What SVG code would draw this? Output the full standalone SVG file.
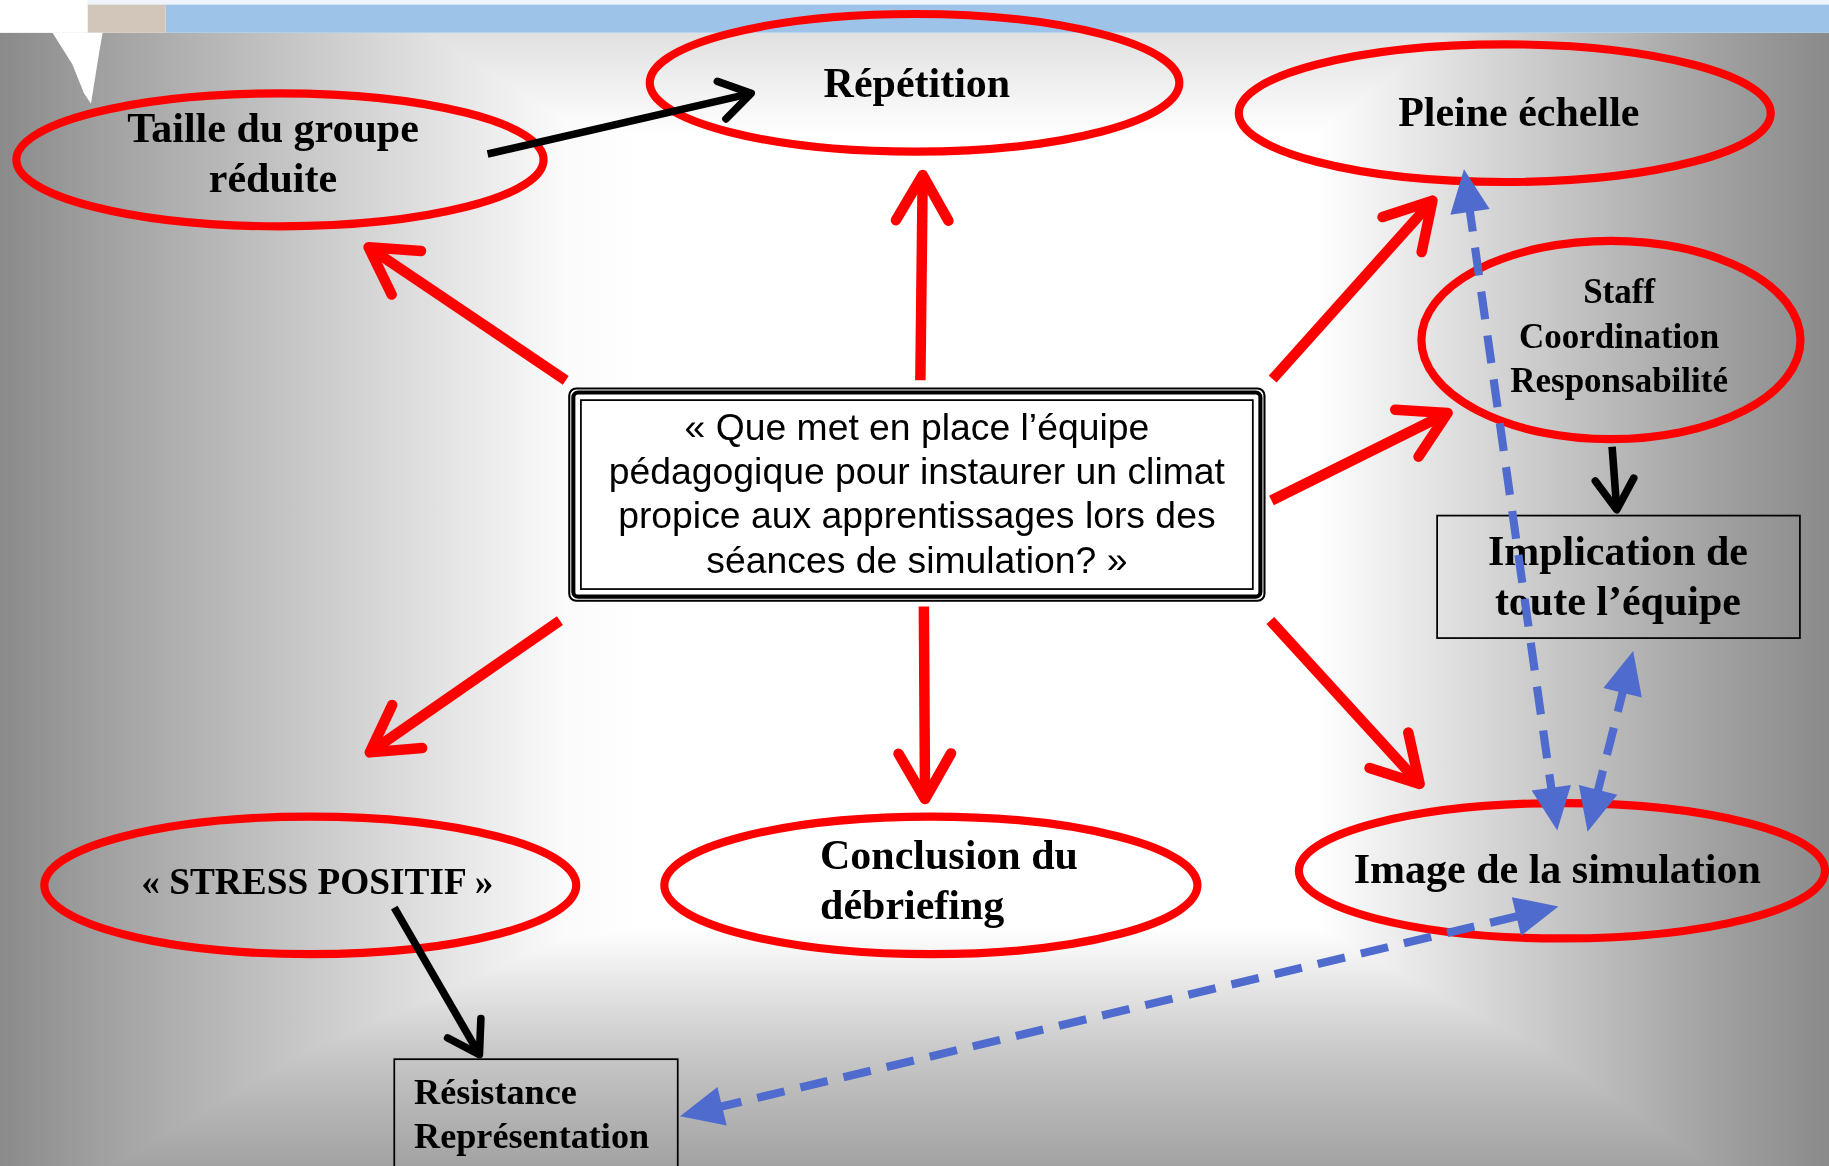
<svg xmlns="http://www.w3.org/2000/svg" width="1829" height="1166" viewBox="0 0 1829 1166">
<defs>
  <linearGradient id="bgH" x1="0" y1="0" x2="1" y2="0">
    <stop offset="0" stop-color="#8a8a8a"/>
    <stop offset="0.06" stop-color="#a2a2a2"/>
    <stop offset="0.2" stop-color="#d4d4d4"/>
    <stop offset="0.31" stop-color="#fbfbfb"/>
    <stop offset="0.35" stop-color="#ffffff"/>
    <stop offset="0.72" stop-color="#ffffff"/>
    <stop offset="0.8" stop-color="#dcdcdc"/>
    <stop offset="0.94" stop-color="#a0a0a0"/>
    <stop offset="1" stop-color="#8a8a8a"/>
  </linearGradient>
  <linearGradient id="bgV" x1="0" y1="0" x2="0" y2="1">
    <stop offset="0" stop-color="#e0e0e0"/>
    <stop offset="0.09" stop-color="#ffffff"/>
    <stop offset="0.79" stop-color="#ffffff"/>
    <stop offset="0.9" stop-color="#c8c8c8"/>
    <stop offset="1" stop-color="#a2a2a2"/>
  </linearGradient>
  <marker id="mRed" markerUnits="userSpaceOnUse" markerWidth="10" markerHeight="10" refX="0" refY="0" orient="auto" overflow="visible">
    <path d="M -39,-22.5 L 0,0 L -39,22.5" fill="none" stroke="#ff0000" stroke-width="9" stroke-linecap="round" stroke-linejoin="round"/>
  </marker>
  <marker id="mBlack" markerUnits="userSpaceOnUse" markerWidth="10" markerHeight="10" refX="0" refY="0" orient="auto" overflow="visible">
    <path d="M -26,-16.5 L 0,0 L -26,16.5" fill="none" stroke="#000000" stroke-width="6.5" stroke-linecap="round" stroke-linejoin="round"/>
  </marker>
  <marker id="mBlue" markerUnits="userSpaceOnUse" markerWidth="10" markerHeight="10" refX="0" refY="0" orient="auto-start-reverse" overflow="visible">
    <path d="M 30,0 L -7,-17 L -7,17 Z" fill="#4f6bcd"/>
  </marker>
</defs>
<style>
  .ell{fill:none;stroke:#ff0000;stroke-width:7}
  .lbl{font-family:"Liberation Serif","Times New Roman",serif;font-weight:bold;fill:#000000}
  .q{font-family:"Liberation Sans",Arial,sans-serif;font-size:32px;fill:#000000}
  .red{fill:none;stroke:#ff0000;stroke-width:9;stroke-linecap:butt;marker-end:url(#mRed)}
  .blk{fill:none;stroke:#000000;stroke-width:6.5;stroke-linecap:butt;marker-end:url(#mBlack)}
  .blu{fill:none;stroke:#4f6bcd;stroke-width:7;stroke-dasharray:24 14;marker-start:url(#mBlue);marker-end:url(#mBlue)}
  .box{fill:none;stroke:#000000;stroke-width:1.5}
</style>
<rect x="0" y="0" width="1829" height="1166" fill="#ffffff"/>
<g transform="scale(1.1665)">
  <g id="background">
    <rect x="0" y="28" width="1568" height="972" fill="url(#bgH)"/>
    <rect x="0" y="28" width="1568" height="972" fill="url(#bgV)" style="mix-blend-mode:darken"/>
    <rect x="0" y="0" width="1568" height="4.5" fill="#eef4fa"/>
    <rect x="142" y="4" width="1426" height="24" fill="#9dc3e8"/>
    <rect x="75" y="4" width="67" height="24" fill="#d2c6ba"/>
    <rect x="0" y="0" width="75" height="28" fill="#ffffff"/>
    <polygon points="45,28 88,28 85,45 78,89 72,80 62,55" fill="#ffffff"/>
  </g>

  <g id="node-taille">
    <ellipse class="ell" cx="240" cy="137" rx="226" ry="57"/>
    <text class="lbl" font-size="36" text-anchor="middle" x="234" y="122">Taille du groupe</text>
    <text class="lbl" font-size="36" text-anchor="middle" x="234" y="165">réduite</text>
  </g>

  <g id="node-repetition">
    <ellipse class="ell" cx="784" cy="71" rx="227" ry="59"/>
    <text class="lbl" font-size="36" text-anchor="middle" x="786" y="83">Répétition</text>
  </g>

  <g id="node-pleine">
    <ellipse class="ell" cx="1290" cy="97" rx="228" ry="59"/>
    <text class="lbl" font-size="36" text-anchor="middle" x="1302" y="108">Pleine échelle</text>
  </g>

  <g id="node-staff">
    <ellipse class="ell" cx="1381" cy="291.5" rx="162.5" ry="85"/>
    <text class="lbl" font-size="30" text-anchor="middle" x="1388" y="260">Staff</text>
    <text class="lbl" font-size="30" text-anchor="middle" x="1388" y="298">Coordination</text>
    <text class="lbl" font-size="30" text-anchor="middle" x="1388" y="336">Responsabilité</text>
  </g>

  <g id="node-implication">
    <rect class="box" x="1232" y="442" width="311" height="105"/>
    <text class="lbl" font-size="36" text-anchor="middle" x="1387" y="484">Implication de</text>
    <text class="lbl" font-size="36" text-anchor="middle" x="1387" y="527">toute l’équipe</text>
  </g>

  <g id="node-question">
    <rect x="488" y="333" width="596" height="182" rx="6" fill="#ffffff" stroke="#000000" stroke-width="1.8"/>
    <rect x="491.5" y="336.5" width="589" height="175" rx="4" fill="none" stroke="#000000" stroke-width="3.5"/>
    <rect x="498" y="343" width="576" height="162" fill="none" stroke="#000000" stroke-width="1.5"/>
    <text class="q" text-anchor="middle" x="786" y="377">« Que met en place l’équipe</text>
    <text class="q" text-anchor="middle" x="786" y="415">pédagogique pour instaurer un climat</text>
    <text class="q" text-anchor="middle" x="786" y="453">propice aux apprentissages lors des</text>
    <text class="q" text-anchor="middle" x="786" y="491">séances de simulation? »</text>
  </g>

  <g id="node-stress">
    <ellipse class="ell" cx="266" cy="759" rx="228" ry="59"/>
    <text class="lbl" font-size="32" text-anchor="middle" x="272" y="766">« STRESS POSITIF »</text>
  </g>

  <g id="node-conclusion">
    <ellipse class="ell" cx="798" cy="759" rx="228.5" ry="59"/>
    <text class="lbl" font-size="36" x="703" y="745">Conclusion du</text>
    <text class="lbl" font-size="36" x="703" y="788">débriefing</text>
  </g>

  <g id="node-image">
    <ellipse class="ell" cx="1339" cy="746.5" rx="225.5" ry="58"/>
    <text class="lbl" font-size="36" text-anchor="middle" x="1335" y="757">Image de la simulation</text>
  </g>

  <g id="node-resistance">
    <rect class="box" x="338" y="908" width="243" height="100"/>
    <text class="lbl" font-size="31" x="355" y="946">Résistance</text>
    <text class="lbl" font-size="31" x="355" y="984">Représentation</text>
  </g>

  <g id="connectors">
    <line class="red" x1="485" y1="326" x2="316" y2="212"/>
    <line class="red" x1="789" y1="326" x2="791" y2="150"/>
    <line class="red" x1="1091" y1="325" x2="1228" y2="172"/>
    <line class="red" x1="1090" y1="429" x2="1241" y2="354"/>
    <line class="red" x1="480" y1="532" x2="317" y2="645"/>
    <line class="red" x1="792" y1="520" x2="793" y2="685"/>
    <line class="red" x1="1089" y1="532" x2="1217" y2="672"/>

    <line class="blk" x1="418" y1="132" x2="644" y2="80"/>
    <line class="blk" x1="1382" y1="383" x2="1386" y2="437"/>
    <line class="blk" x1="338" y1="778" x2="411" y2="904"/>

    <line class="blu" x1="1259.2" y1="174.7" x2="1330.8" y2="682.3"/>
    <line class="blu" x1="1368.3" y1="683.9" x2="1392.7" y2="587.1"/>
    <line class="blu" x1="612.2" y1="950" x2="1306.8" y2="784"/>
  </g>
</g>
</svg>
